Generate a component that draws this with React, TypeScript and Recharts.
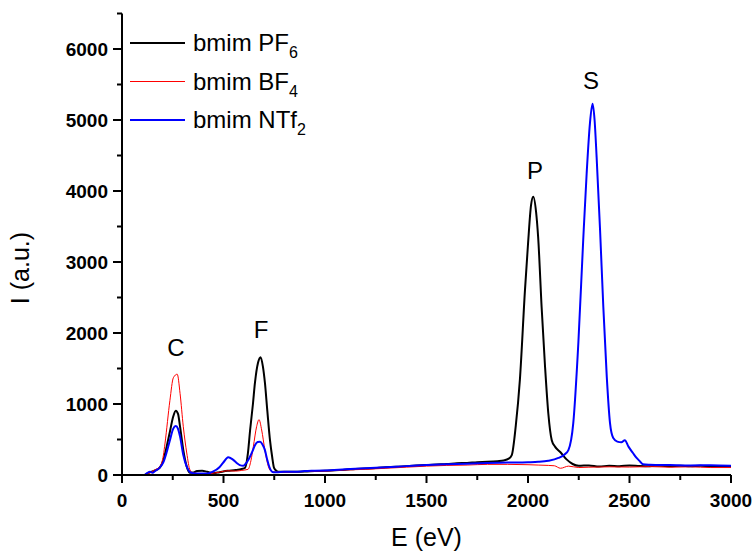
import React from "react"
import {
    LineChart,
    Line,
    XAxis,
    YAxis,
    Legend,
    ReferenceDot,
} from "recharts"

// energy (eV) / intensity (a.u.)
const pf6E = [0, 110, 130, 145, 160, 185, 204, 220, 236, 252, 265, 276, 286, 302, 319, 335, 350, 370, 395, 420, 450, 480, 520, 560, 590, 606, 620, 631, 645, 655, 670, 683, 694, 704, 716, 729, 740, 749, 760, 775, 800, 850, 900, 950, 1000, 1050, 1100, 1150, 1200, 1250, 1300, 1350, 1400, 1450, 1500, 1550, 1600, 1650, 1700, 1750, 1800, 1850, 1880, 1905, 1920, 1940, 1960, 1985, 2000, 2015, 2026, 2040, 2050, 2067, 2084, 2100, 2117, 2133, 2160, 2190, 2220, 2250, 2300, 2350, 2400, 2450, 2500, 2550, 2600, 2650, 2700, 2750, 2800, 2850, 2900, 2950, 3000]
const pf6I = [0, 0, 30, 45, 60, 100, 210, 400, 610, 820, 905, 860, 680, 350, 117, 30, 35, 55, 60, 45, 25, 40, 60, 70, 85, 100, 300, 630, 1000, 1300, 1580, 1660, 1530, 1300, 900, 490, 250, 100, 60, 45, 45, 45, 48, 55, 60, 68, 75, 85, 90, 100, 110, 115, 125, 135, 140, 148, 155, 165, 170, 180, 185, 195, 205, 230, 280, 700, 1340, 2600, 3250, 3800, 3920, 3700, 3350, 2370, 1525, 870, 490, 400, 320, 220, 155, 130, 135, 120, 130, 125, 135, 128, 125, 132, 124, 130, 125, 130, 120, 125, 120]

const bf4E = [0, 110, 130, 145, 160, 187, 204, 212, 236, 253, 272, 286, 302, 319, 335, 350, 380, 420, 450, 480, 520, 560, 590, 621, 635, 647, 663, 675, 688, 704, 721, 737, 760, 800, 850, 900, 1000, 1100, 1200, 1300, 1400, 1500, 1600, 1700, 1800, 1900, 2000, 2050, 2100, 2130, 2160, 2200, 2250, 2300, 2400, 2500, 2600, 2700, 2800, 2900, 3000]
const bf4I = [0, 0, 20, 40, 70, 120, 280, 450, 1050, 1370, 1420, 1150, 680, 310, 70, 30, 20, 15, 25, 40, 60, 55, 65, 80, 200, 400, 680, 780, 634, 350, 120, 50, 40, 40, 45, 50, 55, 70, 80, 95, 110, 125, 135, 140, 150, 150, 145, 140, 135, 130, 95, 125, 105, 110, 115, 112, 118, 110, 115, 105, 105]

const ntf2E = [0, 110, 125, 138, 150, 165, 185, 204, 220, 236, 252, 265, 276, 286, 302, 319, 335, 350, 380, 420, 450, 480, 500, 523, 545, 565, 580, 598, 615, 631, 645, 655, 668, 680, 692, 704, 715, 725, 735, 745, 760, 800, 850, 900, 950, 1000, 1100, 1200, 1300, 1400, 1500, 1600, 1700, 1800, 1900, 2000, 2050, 2100, 2150, 2180, 2199, 2223, 2248, 2272, 2289, 2305, 2318, 2328, 2338, 2355, 2371, 2388, 2404, 2420, 2440, 2460, 2477, 2495, 2517, 2535, 2552, 2567, 2600, 2700, 2800, 2900, 3000]
const ntf2I = [0, 0, 30, 47, 30, 60, 100, 180, 320, 490, 650, 690, 650, 540, 280, 117, 40, 25, 20, 20, 50, 110, 180, 250, 220, 170, 140, 130, 180, 260, 350, 420, 465, 470, 430, 350, 220, 120, 60, 40, 40, 45, 45, 55, 60, 65, 80, 95, 110, 125, 140, 150, 160, 170, 175, 180, 185, 200, 240, 290, 350, 730, 1860, 3310, 4250, 4950, 5230, 5000, 4480, 3450, 2370, 1385, 730, 520, 470, 460, 490, 400, 310, 240, 190, 150, 145, 140, 135, 138, 130]

const X_TICKS = [0, 250, 500, 750, 1000, 1250, 1500, 1750, 2000, 2250, 2500, 2750, 3000]
const Y_TICKS = [0, 500, 1000, 1500, 2000, 2500, 3000, 3500, 4000, 4500, 5000, 5500, 6000, 6500]

const peakNames = ["C", "F", "P", "S"]
const peakE = [266, 685, 2034, 2310]
const peakI = [1790, 2056, 4296, 5560]

const toPoints = (es: number[], is: number[]) => es.map((e, i) => ({ e, v: is[i] }))

const SERIES = [
    { key: "pf6", label: "bmim PF", sub: "6", color: "#000000", width: 2, data: toPoints(pf6E, pf6I) },
    { key: "bf4", label: "bmim BF", sub: "4", color: "#ff0000", width: 1, data: toPoints(bf4E, bf4I) },
    { key: "ntf2", label: "bmim NTf", sub: "2", color: "#0000ff", width: 2, data: toPoints(ntf2E, ntf2I) },
]

const FONT = "'Liberation Sans', Arial, sans-serif"

// tick marks drawn by hand so the minor ones can be shorter
const XTick = (props: any) => {
    const { x, y, payload } = props
    const major = payload.value % 500 === 0
    return (
        <g>
            <line x1={x} x2={x} y1={y} y2={y + (major ? 8 : 5)} stroke="#000" strokeWidth={2} />
            {major && (
                <text x={x} y={y + 32} textAnchor="middle" fontSize={19} fontWeight="bold" fontFamily={FONT} fill="#000">
                    {payload.value}
                </text>
            )}
        </g>
    )
}

const YTick = (props: any) => {
    const { x, y, payload } = props
    const major = payload.value % 1000 === 0
    return (
        <g>
            <line x1={x} x2={x - (major ? 9 : 5)} y1={y} y2={y} stroke="#000" strokeWidth={2} />
            {major && (
                <text x={x - 14} y={y + 7} textAnchor="end" fontSize={19} fontWeight="bold" fontFamily={FONT} fill="#000">
                    {payload.value}
                </text>
            )}
        </g>
    )
}

const XTitle = () => (
    <text x={426.5} y={546} textAnchor="middle" fontSize={25} fontFamily={FONT} fill="#000">E (eV)</text>
)

const YTitle = () => (
    <text x={0} y={0} transform="translate(29, 268) rotate(-90)" textAnchor="middle" fontSize={25} fontFamily={FONT} fill="#000">
        I (a.u.)
    </text>
)

const LegendBox = () => (
    <svg width={200} height={140}>
        {SERIES.map((s, i) => {
            const y = 43 + i * 38.5
            return (
                <g key={s.key}>
                    <line x1={8} x2={63} y1={y} y2={y} stroke={s.color} strokeWidth={s.width} />
                    <text x={71} y={y + 8} fontSize={24} fontFamily={FONT} fill="#000">
                        {s.label}
                        <tspan fontSize={16} dy={7}>{s.sub}</tspan>
                    </text>
                </g>
            )
        })}
    </svg>
)

export default function App() {
    return (
        <div style={{ position: "absolute", left: 0, top: 0, width: 756, height: 551, background: "#fff" }}>
            <LineChart width={756} height={551} margin={{ top: 13.5, right: 25, bottom: 0, left: 0 }}>
                <XAxis
                    type="number"
                    dataKey="e"
                    domain={[0, 3000]}
                    ticks={X_TICKS}
                    interval={0}
                    height={76}
                    tickSize={0}
                    tickMargin={0}
                    tickLine={false}
                    tick={<XTick />}
                    axisLine={{ stroke: "#000", strokeWidth: 2 }}
                    allowDataOverflow
                    label={<XTitle />}
                />
                <YAxis
                    type="number"
                    domain={[0, 6500]}
                    ticks={Y_TICKS}
                    interval={0}
                    width={122}
                    tickSize={0}
                    tickMargin={0}
                    tickLine={false}
                    tick={<YTick />}
                    axisLine={{ stroke: "#000", strokeWidth: 2 }}
                    allowDataOverflow
                    label={<YTitle />}
                />
                {SERIES.map((s) => (
                    <Line
                        key={s.key}
                        data={s.data}
                        dataKey="v"
                        name={s.key}
                        type="monotone"
                        stroke={s.color}
                        strokeWidth={s.width}
                        dot={false}
                        isAnimationActive={false}
                    />
                ))}
                {peakNames.map((n, i) => (
                    <ReferenceDot
                        key={n}
                        x={peakE[i]}
                        y={peakI[i]}
                        r={0}
                        stroke="none"
                        label={{ value: n, position: "center", fontSize: 24, fontFamily: FONT, fill: "#000" }}
                    />
                ))}
                <Legend
                    layout="vertical"
                    align="center"
                    verticalAlign="middle"
                    content={<LegendBox />}
                    wrapperStyle={{ position: "absolute", left: 122, top: 0, width: 200, height: 140 }}
                />
            </LineChart>
        </div>
    )
}
